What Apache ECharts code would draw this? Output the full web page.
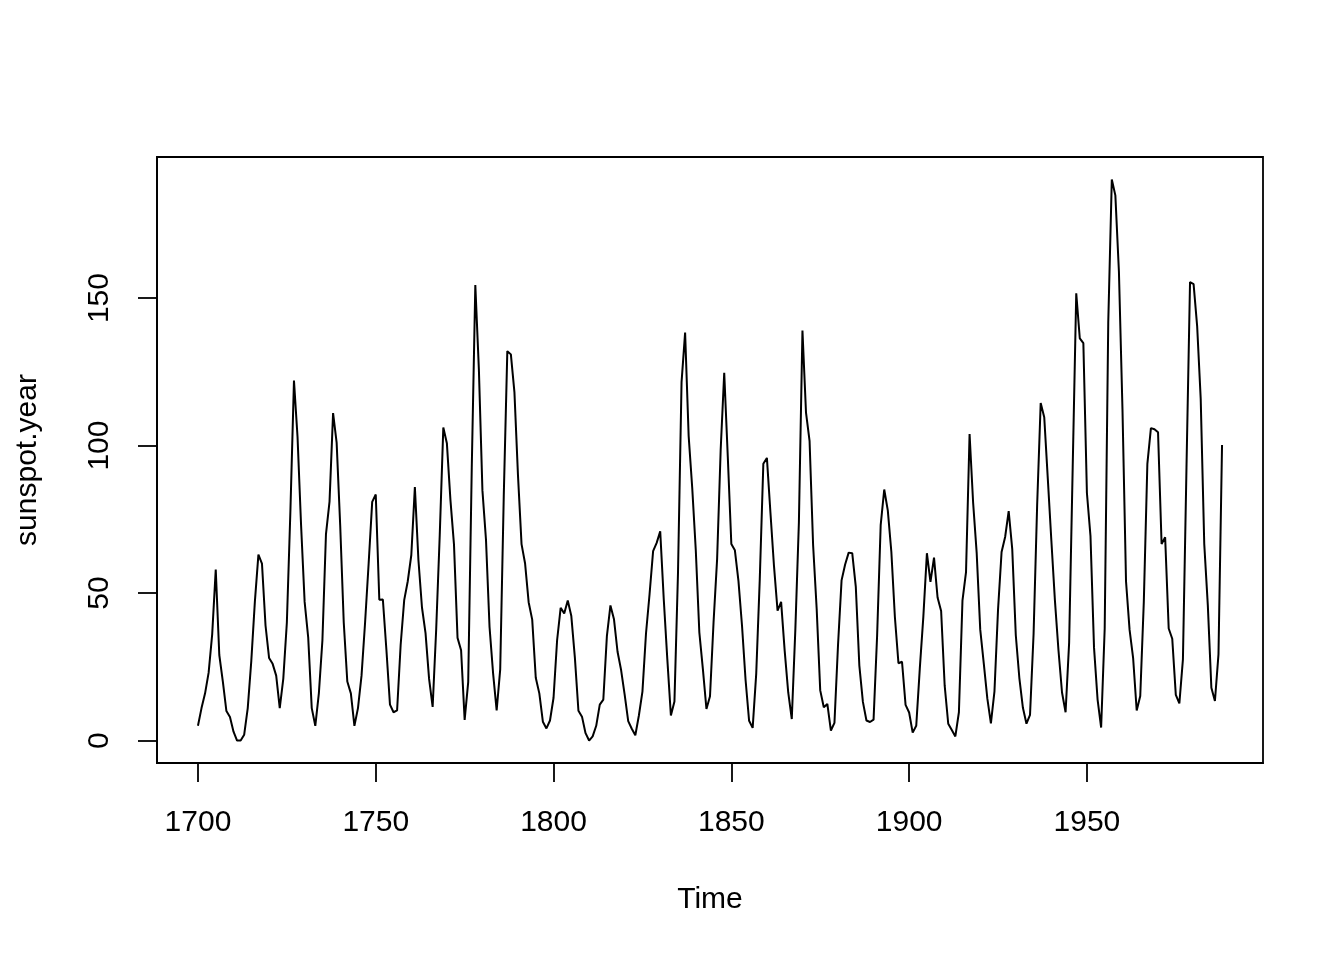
<!DOCTYPE html>
<html>
<head>
<meta charset="utf-8">
<script src="https://cdn.jsdelivr.net/npm/echarts@6/dist/echarts.min.js"></script>
<style>
html,body{margin:0;padding:0;background:#fff;}
#chart{width:1344px;height:960px;}
</style>
</head>
<body>
<div id="chart"></div>
<script>
const startYear = 1700;
const sunspots = [
5, 11, 16, 23, 36, 58, 29, 20, 10, 8,
3, 0, 0, 2, 11, 27, 47, 63, 60, 39,
28, 26, 22, 11, 21, 40, 78, 122, 103, 73,
47, 35, 11, 5, 16, 34, 70, 81, 111, 101,
73, 40, 20, 16, 5, 11, 22, 40, 60, 80.9,
83.4, 47.7, 47.8, 30.7, 12.2, 9.6, 10.2, 32.4, 47.6, 54,
62.9, 85.9, 61.2, 45.1, 36.4, 20.9, 11.4, 37.8, 69.8, 106.1,
100.8, 81.6, 66.5, 34.8, 30.6, 7, 19.8, 92.5, 154.4, 125.9,
84.8, 68.1, 38.5, 22.8, 10.2, 24.1, 82.9, 132, 130.9, 118.1,
89.9, 66.6, 60, 46.9, 41, 21.3, 16, 6.4, 4.1, 6.8,
14.5, 34, 45, 43.1, 47.5, 42.2, 28.1, 10.1, 8.1, 2.5,
0, 1.4, 5, 12.2, 13.9, 35.4, 45.8, 41.1, 30.1, 23.9,
15.6, 6.6, 4, 1.8, 8.5, 16.6, 36.3, 49.6, 64.2, 67,
70.9, 47.8, 27.5, 8.5, 13.2, 56.9, 121.5, 138.3, 103.2, 85.7,
64.6, 36.7, 24.2, 10.7, 15, 40.1, 61.5, 98.5, 124.7, 96.3,
66.6, 64.5, 54.1, 39, 20.6, 6.7, 4.3, 22.7, 54.8, 93.8,
95.8, 77.2, 59.1, 44, 47, 30.5, 16.3, 7.3, 37.6, 74,
139, 111.2, 101.6, 66.2, 44.7, 17, 11.3, 12.4, 3.4, 6,
32.3, 54.3, 59.7, 63.7, 63.5, 52.2, 25.4, 13.1, 6.8, 6.3,
7.1, 35.6, 73, 85.1, 78, 64, 41.8, 26.2, 26.7, 12.1,
9.5, 2.7, 5, 24.4, 42, 63.5, 53.8, 62, 48.5, 43.9,
18.6, 5.7, 3.6, 1.4, 9.6, 47.4, 57.1, 103.9, 80.6, 63.6,
37.6, 26.1, 14.2, 5.8, 16.7, 44.3, 63.9, 69, 77.8, 64.9,
35.7, 21.2, 11.1, 5.7, 8.7, 36.1, 79.7, 114.4, 109.6, 88.8,
67.8, 47.5, 30.6, 16.3, 9.6, 33.2, 92.6, 151.6, 136.3, 134.7,
83.9, 69.4, 31.5, 13.9, 4.4, 38, 141.7, 190.2, 184.8, 159,
112.3, 53.9, 37.5, 27.9, 10.2, 15.1, 47, 93.8, 105.9, 105.5,
104.5, 66.6, 68.9, 38, 34.5, 15.5, 12.6, 27.5, 92.5, 155.4,
154.7, 140.5, 115.9, 66.6, 45.9, 17.9, 13.4, 29.2, 100.2
];
const xTicks = [1700, 1750, 1800, 1850, 1900, 1950];
const yTicks = [0, 50, 100, 150];
const xTitle = 'Time';
const yTitle = 'sunspot.year';

const years = sunspots.map((v, i) => startYear + i);
const seriesData = sunspots.map((v, i) => [years[i], v]);

// R-style 4% range extension
const xLo = years[0], xHi = years[years.length - 1];
const yLo = Math.min(...sunspots), yHi = Math.max(...sunspots);
const xPad = (xHi - xLo) * 0.04, yPad = (yHi - yLo) * 0.04;

const font = 'Liberation Sans, Arial, Helvetica, sans-serif';
const chart = echarts.init(document.getElementById('chart'), null, {renderer: 'canvas'});
chart.setOption({
  animation: false,
  backgroundColor: '#fff',
  grid: {left: 157, right: 81, top: 157, bottom: 197, show: true, borderColor: '#000', borderWidth: 1.8, backgroundColor: 'transparent'},
  xAxis: {
    type: 'value', min: xLo - xPad, max: xHi + xPad,
    name: xTitle, nameLocation: 'middle', nameGap: 122,
    nameTextStyle: {fontSize: 30, color: '#000', fontFamily: font},
    axisLine: {show: true, onZero: false, lineStyle: {color: '#000', width: 1.8}},
    axisTick: {show: true, customValues: xTicks, length: 19, lineStyle: {color: '#000', width: 1.8}},
    axisLabel: {show: true, customValues: xTicks, margin: 45, fontSize: 30, color: '#000', fontFamily: font,
      formatter: v => String(v)},
    splitLine: {show: false}
  },
  yAxis: {
    type: 'value', min: yLo - yPad, max: yHi + yPad,
    name: yTitle, nameLocation: 'middle', nameGap: 114, nameRotate: 90,
    nameTextStyle: {fontSize: 30, color: '#000', fontFamily: font},
    axisLine: {show: true, onZero: false, lineStyle: {color: '#000', width: 1.8}},
    axisTick: {show: true, customValues: yTicks, length: 19, lineStyle: {color: '#000', width: 1.8}},
    axisLabel: {show: true, customValues: yTicks, rotate: 90, margin: 42, fontSize: 30, color: '#000', fontFamily: font,
      formatter: v => String(v)},
    splitLine: {show: false}
  },
  series: [{
    type: 'line', data: seriesData, showSymbol: false, symbol: 'none',
    lineStyle: {color: '#000', width: 2}, silent: true
  }]
});
</script>
</body>
</html>
